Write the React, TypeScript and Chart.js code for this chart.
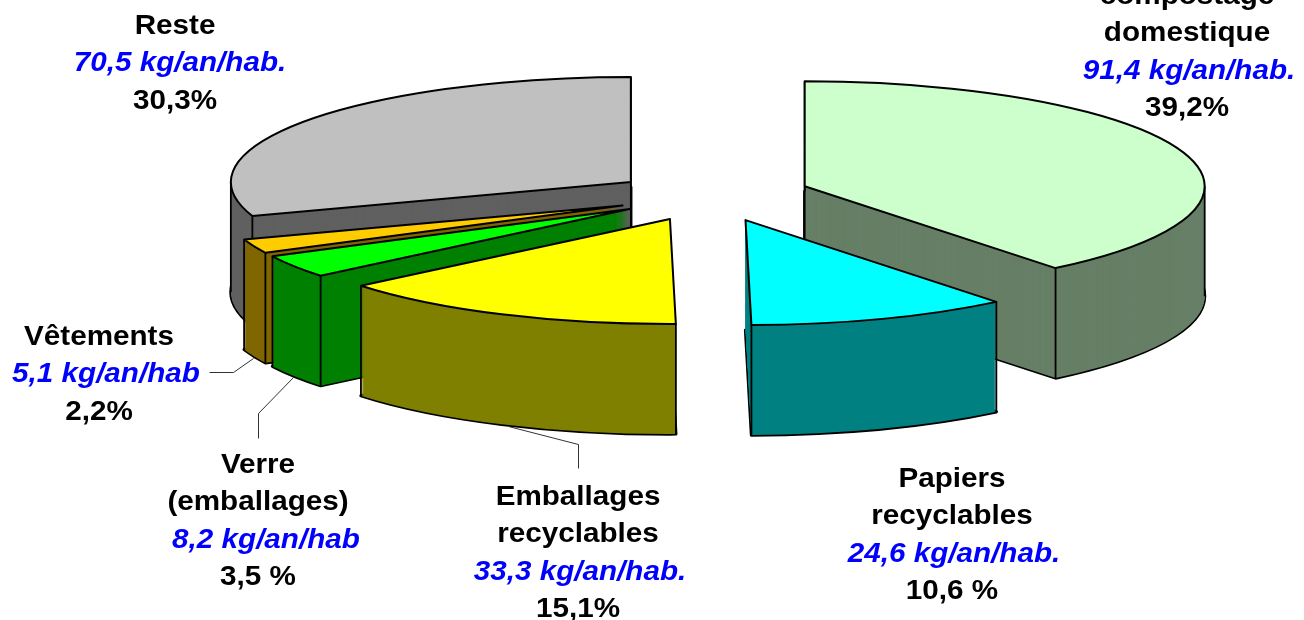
import React, { useEffect, useRef } from "react";
import { Chart, registerables } from "chart.js";

Chart.register(...registerables);

const categories = ["Compostage domestique", "Papiers recyclables", "Emballages recyclables", "Verre (emballages)", "Vêtements", "Reste"];
const kgPerYear = [91.4, 24.6, 33.3, 8.2, 5.1, 70.5];

const nameLines = [
  ["compostage", "domestique"],
  ["Papiers", "recyclables"],
  ["Emballages", "recyclables"],
  ["Verre", "(emballages)"],
  ["Vêtements"],
  ["Reste"],
];
const kgLabels = ["91,4 kg/an/hab.", "24,6 kg/an/hab.", "33,3 kg/an/hab.", "8,2 kg/an/hab", "5,1 kg/an/hab", "70,5 kg/an/hab."];
const pctLabels = ["39,2%", "10,6 %", "15,1%", "3,5 %", "2,2%", "30,3%"];

const topColors = ["#CCFFCC", "#00FFFF", "#FFFF00", "#00FF00", "#FFCC00", "#C0C0C0"];
const wallColors = ["#667F66", "#008080", "#808000", "#008000", "#806600", "#606060"];

// style / layout
const squash = 0.2625;
const depth = 110;
const explode = [111, 134, 71.5, 84, 84, 85];
const lift = [-1, -10, 5, 0, 0, -2];
const paintOrder = [5, 4, 3, 2, 0, 1];
const labelCenter = [1187, 952, 578, 258, 99, 175];
const labelTop = [-4, 479, 497, 465, 337, 26];
const kgShift = [2, 2, 2, 8, 7, 5];
const lineGap = 37.5;
const leaders = [
  [[209, 372], [233, 372], [253, 358]],
  [[258, 438], [258, 413], [293, 377]],
  [[578, 468], [578, 444], [508, 426]],
];

const piePlugin = {
  id: "extrudedPie",
  beforeDatasetsDraw(chart: any) {
    const ctx = chart.ctx as CanvasRenderingContext2D;
    const arcs = chart.getDatasetMeta(0).data;
    paintOrder.forEach((i) => {
      const arc = arcs[i];
      const mid = (arc.startAngle + arc.endAngle) / 2;
      const ox = Math.cos(mid) * explode[i];
      const oy = Math.sin(mid) * explode[i];
      const r = arc.outerRadius;
      const frame = (dz: number, fn: () => void) => {
        ctx.save();
        ctx.translate(arc.x, arc.y + lift[i] + dz);
        ctx.scale(1, squash);
        ctx.translate(-arc.x + ox, -arc.y + oy);
        fn();
        ctx.restore();
      };
      const wedge = (dz: number) => {
        frame(dz, () => {
          ctx.beginPath();
          ctx.moveTo(arc.x, arc.y);
          ctx.arc(arc.x, arc.y, r, arc.startAngle, arc.endAngle);
          ctx.closePath();
        });
      };
      const rim = (a: number) => [
        arc.x + ox + r * Math.cos(a),
        arc.y + lift[i] + (oy + r * Math.sin(a)) * squash,
      ];
      const vertical = (x: number, y: number) => {
        ctx.beginPath();
        ctx.moveTo(x, y);
        ctx.lineTo(x, y + depth);
        ctx.stroke();
      };
      const fillArc = (color: string, dz: number) => {
        const saved = arc.options;
        arc.options = { ...saved, backgroundColor: color, borderWidth: 0, offset: 0 };
        frame(dz, () => arc.draw(ctx));
        arc.options = saved;
      };

      ctx.save();
      ctx.lineJoin = "round";
      ctx.strokeStyle = "#000";
      ctx.lineWidth = 3.2;
      wedge(depth);
      ctx.stroke();
      for (let d = depth; d > 0; d--) fillArc(wallColors[i], d);

      ctx.lineWidth = 1.8;
      const a0 = rim(arc.startAngle);
      const a1 = rim(arc.endAngle);
      vertical(a0[0], a0[1]);
      vertical(a1[0], a1[1]);
      if (Math.cos(mid + Math.PI / 2) > 0 && Math.sin(mid) < 0) {
        vertical(arc.x + ox, arc.y + lift[i] + oy * squash);
      }
      if (arc.startAngle < 0 && arc.endAngle > 0) {
        const e = rim(0);
        vertical(e[0], e[1]);
      }
      if (arc.startAngle < Math.PI && arc.endAngle > Math.PI) {
        const e = rim(Math.PI);
        vertical(e[0], e[1]);
      }
      fillArc(topColors[i], 0);
      ctx.lineWidth = 2;
      wedge(0);
      ctx.stroke();
      ctx.restore();
    });
    return false;
  },
  afterDraw(chart: any) {
    const ctx = chart.ctx as CanvasRenderingContext2D;
    ctx.save();
    ctx.strokeStyle = "#333";
    ctx.lineWidth = 1;
    leaders.forEach((pts) => {
      ctx.beginPath();
      pts.forEach((p, k) => (k ? ctx.lineTo(p[0] + 0.5, p[1] + 0.5) : ctx.moveTo(p[0] + 0.5, p[1] + 0.5)));
      ctx.stroke();
    });
    ctx.textAlign = "center";
    ctx.textBaseline = "middle";
    const text = (t: string, x: number, y: number, font: string, color: string) => {
      ctx.save();
      ctx.translate(x, y);
      ctx.scale(1.04, 1);
      ctx.font = font;
      ctx.fillStyle = color;
      ctx.fillText(t, 0, 0);
      ctx.restore();
    };
    nameLines.forEach((lines, i) => {
      let y = labelTop[i];
      lines.forEach((l) => {
        text(l, labelCenter[i], y, 'bold 28.5px "Liberation Sans"', "#000");
        y += lineGap;
      });
      text(kgLabels[i], labelCenter[i] + kgShift[i], y, 'italic bold 28.5px "Liberation Sans"', "#0000FF");
      y += lineGap;
      text(pctLabels[i], labelCenter[i], y, 'bold 28.5px "Liberation Sans"', "#000");
    });
    ctx.restore();
  },
};

export default function App() {
  const ref = useRef<HTMLCanvasElement>(null);
  useEffect(() => {
    const chart = new Chart(ref.current as HTMLCanvasElement, {
      type: "pie",
      data: {
        labels: categories,
        datasets: [{ data: kgPerYear, backgroundColor: topColors, borderWidth: 0 }],
      },
      options: {
        responsive: false,
        animation: false,
        radius: 400,
        layout: { padding: { left: 96, bottom: 226 } },
        plugins: { legend: { display: false }, tooltip: { enabled: false } },
      } as any,
      plugins: [piePlugin as any],
    });
    return () => chart.destroy();
  }, []);
  return (
    <div style={{ position: "absolute", left: 0, top: 0, width: 1304, height: 620, overflow: "hidden", background: "#fff" }}>
      <canvas ref={ref} width={1304} height={620} style={{ display: "block" }} />
    </div>
  );
}
